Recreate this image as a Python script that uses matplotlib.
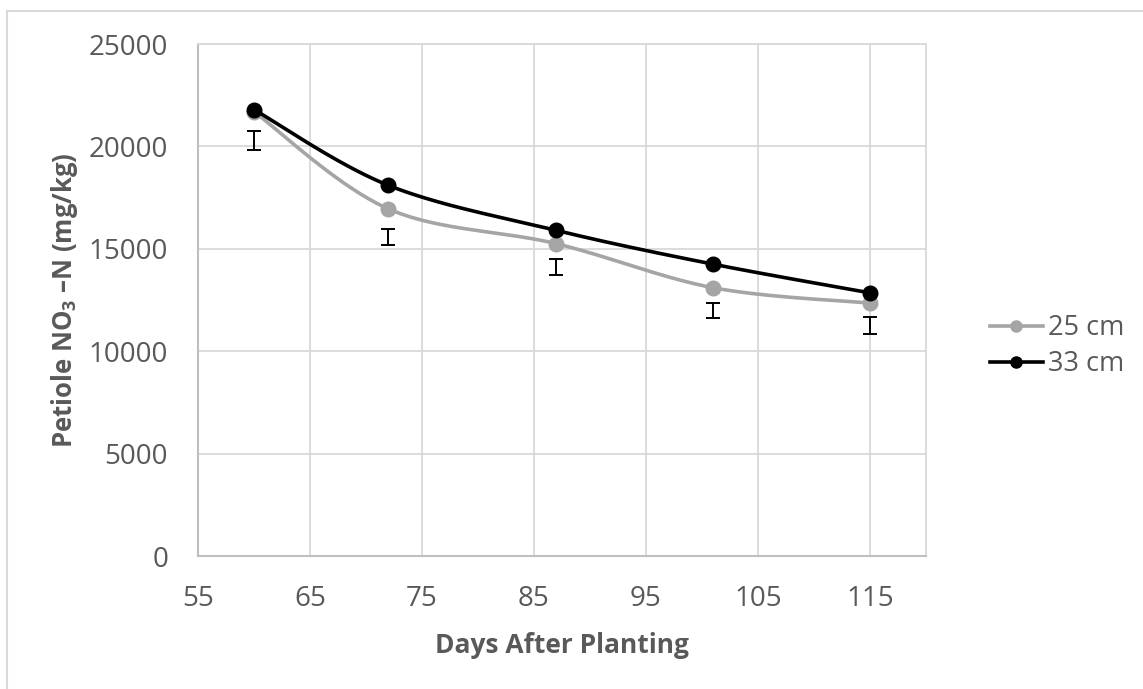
import numpy as np
import matplotlib
matplotlib.use("Agg")
import matplotlib.pyplot as plt
from matplotlib.lines import Line2D

# --- data -------------------------------------------------------------
days = [60, 72, 87, 101, 115]
series_names = ["25 cm", "33 cm"]
no3_25cm = [21700, 16950, 15250, 13100, 12350]
no3_33cm = [21800, 18100, 15900, 14250, 12850]
# standalone error bars (centre and half-length)
err_center = [20300, 15580, 14100, 11990, 11270]
err_half = [475, 390, 382, 380, 420]

x_ticks = [55, 65, 75, 85, 95, 105, 115]
y_ticks = [0, 5000, 10000, 15000, 20000, 25000]

# --- style ------------------------------------------------------------
plt.rcParams["font.family"] = ["Open Sans", "DejaVu Sans"]
plt.rcParams["mathtext.fontset"] = "custom"
plt.rcParams["mathtext.rm"] = "Open Sans:bold"
plt.rcParams["mathtext.bf"] = "Open Sans:bold"

TXT = "#595959"
GRID = "#D9D9D9"
AXIS = "#BFBFBF"
colors = ["#A5A5A5", "#000000"]

fig = plt.figure(figsize=(11.43, 6.89), dpi=100)
ax = fig.add_axes([0.1732, 0.1930, 0.6369, 0.7431])

xlim = (55, 120)
ylim = (0, 25000)
ax.set_xlim(*xlim)
ax.set_ylim(*ylim)
ASPECT = 0.7431 * 689 / (0.6369 * 1143)


def smooth(xs, ys, n=40):
    """Smoothed line: cubic Bezier through the points, control points
    taken from neighbouring points (computed in normalised axis space
    so the curve is not distorted)."""
    xs = (np.asarray(xs, float) - xlim[0]) / (xlim[1] - xlim[0])
    ys = (np.asarray(ys, float) - ylim[0]) / (ylim[1] - ylim[0]) * ASPECT
    pts = np.column_stack([xs, ys])
    out = [pts[0]]
    m = len(pts)
    for i in range(m - 1):
        p0 = pts[i - 1] if i > 0 else pts[i]
        p1, p2 = pts[i], pts[i + 1]
        p3 = pts[i + 2] if i + 2 < m else pts[i + 1]
        c1 = p1 + (p2 - p0) / 6.0
        c2 = p2 - (p3 - p1) / 6.0
        t = np.linspace(0, 1, n)[1:, None]
        seg = ((1 - t) ** 3) * p1 + 3 * ((1 - t) ** 2) * t * c1 \
            + 3 * (1 - t) * t ** 2 * c2 + t ** 3 * p2
        out.extend(seg)
    out = np.array(out)
    ox = out[:, 0] * (xlim[1] - xlim[0]) + xlim[0]
    oy = out[:, 1] / ASPECT * (ylim[1] - ylim[0]) + ylim[0]
    return ox, oy


for name, vals, c, z in zip(series_names, [no3_25cm, no3_33cm], colors, [3, 4]):
    sx, sy = smooth(days, vals)
    ax.plot(sx, sy, color=c, lw=2.6, solid_capstyle="round", zorder=z)
    ax.plot(days, vals, "o", color=c, ms=10.5, zorder=z)

ax.errorbar(days, err_center, yerr=err_half, fmt="none", ecolor="black",
            elinewidth=1.4, capsize=4.8, capthick=1.4, zorder=5)

# legend entries
handles = [Line2D([], [], color=c, lw=2.6, marker="o", ms=8) for c in colors]
leg = ax.legend(handles, series_names, loc="center left",
                bbox_to_anchor=(1.088, 0.41), frameon=False,
                fontsize=19.5, labelcolor=TXT, handlelength=1.95,
                handletextpad=0.2, labelspacing=0.3, borderaxespad=0,
                borderpad=0)

# axes, grid, ticks
ax.set_xticks(x_ticks)
ax.set_yticks(y_ticks)
ax.grid(True, color=GRID, lw=1.3)
ax.set_axisbelow(True)
ax.tick_params(length=0, labelsize=20, colors=TXT)
ax.tick_params(axis="x", pad=21)
ax.tick_params(axis="y", pad=21.5)
for side in ["top", "right"]:
    ax.spines[side].set_color(GRID)
    ax.spines[side].set_linewidth(1.3)
for side in ["left", "bottom"]:
    ax.spines[side].set_color(AXIS)
    ax.spines[side].set_linewidth(1.5)

ax.set_xlabel("Days After Planting", fontsize=19, fontweight="bold",
              color=TXT)
ax.set_ylabel("Petiole NO$_\\mathrm{3}$ \u2013N (mg/kg)", fontsize=18.5,
              fontweight="bold", color=TXT)
ax.xaxis.set_label_coords(0.5, -0.148)
ax.yaxis.set_label_coords(-0.162, 0.5)

# chart-area border (top and left edges visible)
fig.add_artist(Line2D([7 / 1143, 1.2], [1 - 11 / 689, 1 - 11 / 689],
                      transform=fig.transFigure, color=GRID, lw=1.5))
fig.add_artist(Line2D([7 / 1143, 7 / 1143], [1 - 11 / 689, -0.2],
                      transform=fig.transFigure, color=GRID, lw=1.5))

fig.savefig("out.png", dpi=100)
